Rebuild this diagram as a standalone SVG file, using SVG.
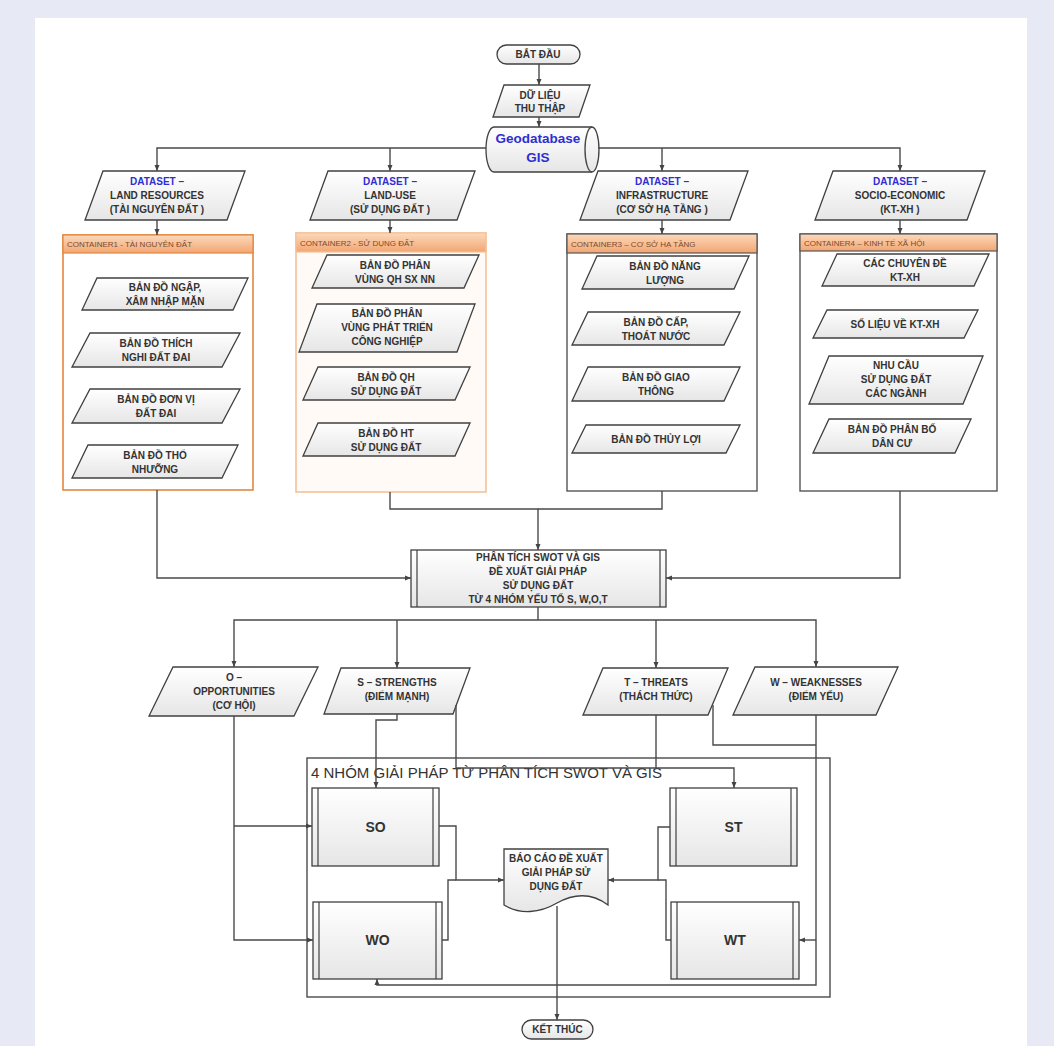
<svg xmlns="http://www.w3.org/2000/svg" width="1054" height="1046" viewBox="0 0 1054 1046">
<defs>
<linearGradient id="g" x1="0" y1="0" x2="0" y2="1"><stop offset="0" stop-color="#ffffff"/><stop offset="1" stop-color="#e6e6e6"/></linearGradient>
<linearGradient id="h" x1="0" y1="0" x2="0" y2="1"><stop offset="0" stop-color="#fcd9bb"/><stop offset="1" stop-color="#f2a673"/></linearGradient>
<marker id="a" viewBox="0 0 6 6" refX="6" refY="3" markerWidth="6" markerHeight="6" markerUnits="userSpaceOnUse" orient="auto"><path d="M0,0.5 L6,3 L0,5.5 z" fill="#444"/></marker>
</defs>
<style>
.n{fill:url(#g);stroke:#404040;stroke-width:1.3}
.t{font-family:"Liberation Sans",Arial,sans-serif;font-weight:bold;font-size:10px;fill:#333;text-anchor:middle}
.bl{fill:#2e2ed2}
.c{fill:none;stroke:#4a4a4a;stroke-width:1.4}
.hd{fill:url(#h);stroke:#e3873f;stroke-width:1.2}
.ht{font-family:"Liberation Sans",Arial,sans-serif;font-size:8px;fill:#7b4a2a}
.big{font-size:14px}
</style>
<rect x="0" y="0" width="1054" height="1046" fill="#e7e9f5"/>
<rect x="35" y="18" width="992" height="1028" fill="#ffffff"/>

<g id="start"><rect class="n" x="497" y="45" width="83" height="19" rx="9.5"/><text class="t" x="538" y="58">BẮT ĐẦU</text></g>
<g id="collect"><polygon class="n" points="504,85 590,85 579,117 493,117"/><text class="t" x="540" y="98.5">DỮ LIỆU</text><text class="t" x="540" y="111.5">THU THẬP</text></g>
<g id="geodb"><path class="n" d="M494,127 H592 A7,22.5 0 0 1 592,172 H494 A8,22.5 0 0 1 494,127 Z"/><path class="c" d="M592,127 A7,22.5 0 0 0 592,172"/><text class="t bl" style="font-size:13.5px" x="538" y="143">Geodatabase</text><text class="t bl" style="font-size:13.5px" x="538" y="162">GIS</text></g>

<g id="ds1"><polygon class="n" points="103,171 245,171 227,220 85,220"/><text class="t bl" x="157" y="184.5">DATASET –</text><text class="t" x="157" y="198.5">LAND RESOURCES</text><text class="t" x="157" y="212.5">(TÀI NGUYÊN ĐẤT )</text></g>
<g id="ds2"><polygon class="n" points="328,171 475,171 457,220 310,220"/><text class="t bl" x="390" y="184.5">DATASET –</text><text class="t" x="390" y="198.5">LAND-USE</text><text class="t" x="390" y="212.5">(SỬ DỤNG ĐẤT )</text></g>
<g id="ds3"><polygon class="n" points="598,171 748,171 730,220 580,220"/><text class="t bl" x="662" y="184.5">DATASET –</text><text class="t" x="662" y="198.5">INFRASTRUCTURE</text><text class="t" x="662" y="212.5">(CƠ SỞ HẠ TẦNG )</text></g>
<g id="ds4"><polygon class="n" points="833,171 985,171 967,220 815,220"/><text class="t bl" x="900" y="184.5">DATASET –</text><text class="t" x="900" y="198.5">SOCIO-ECONOMIC</text><text class="t" x="900" y="212.5">(KT-XH )</text></g>

<g id="container1">
<rect x="63" y="235" width="190" height="255" fill="#ffffff" stroke="#e3873f" stroke-width="1.6"/>
<rect class="hd" x="63" y="235" width="190" height="18"/>
<text class="ht" x="67" y="247">CONTAINER1 - TÀI NGUYÊN ĐẤT</text>
</g>
<g id="c1n1"><polygon class="n" points="97,278 248,278 233,310 82,310"/><text class="t" x="165" y="290.5">BẢN ĐỒ NGẬP,</text><text class="t" x="165" y="304.5">XÂM NHẬP MẶN</text></g>
<g id="c1n2"><polygon class="n" points="90,333 240,333 222,367 72,367"/><text class="t" x="156" y="346.5">BẢN ĐỒ THÍCH</text><text class="t" x="156" y="360.5">NGHI ĐẤT ĐAI</text></g>
<g id="c1n3"><polygon class="n" points="90,389 240,389 222,423 72,423"/><text class="t" x="156" y="402.5">BẢN ĐỒ ĐƠN VỊ</text><text class="t" x="156" y="416.5">ĐẤT ĐAI</text></g>
<g id="c1n4"><polygon class="n" points="88,445 238,445 222,478 72,478"/><text class="t" x="155" y="458.5">BẢN ĐỒ THỔ</text><text class="t" x="155" y="472.5">NHƯỠNG</text></g>

<g id="container2">
<rect x="296" y="233" width="190" height="259" fill="#fffaf6" stroke="#f3c29c" stroke-width="1.6"/>
<rect x="296" y="233" width="190" height="19" fill="url(#h)" stroke="#f3c29c" stroke-width="1.2"/>
<text class="ht" x="300" y="245.5">CONTAINER2 - SỬ DỤNG ĐẤT</text>
</g>
<g id="c2n1"><polygon class="n" points="327,255 479,255 464,288 312,288"/><text class="t" x="395" y="268.5">BẢN ĐỒ PHÂN</text><text class="t" x="395" y="282.5">VÙNG QH SX NN</text></g>
<g id="c2n2"><polygon class="n" points="317,304 475,304 457,352 299,352"/><text class="t" x="387" y="316.5">BẢN ĐỒ PHÂN</text><text class="t" x="387" y="330.5">VÙNG PHÁT TRIỂN</text><text class="t" x="387" y="344.5">CÔNG NGHIỆP</text></g>
<g id="c2n3"><polygon class="n" points="318,367 470,367 455,400 303,400"/><text class="t" x="386" y="380.5">BẢN ĐỒ QH</text><text class="t" x="386" y="394.5">SỬ DỤNG ĐẤT</text></g>
<g id="c2n4"><polygon class="n" points="318,423 470,423 455,456 303,456"/><text class="t" x="386" y="436.5">BẢN ĐỒ HT</text><text class="t" x="386" y="450.5">SỬ DỤNG ĐẤT</text></g>

<g id="container3">
<rect x="567" y="234" width="190" height="257" fill="#ffffff" stroke="#555" stroke-width="1.4"/>
<rect x="567" y="234" width="190" height="19" fill="url(#h)" stroke="#555" stroke-width="1.2"/>
<text class="ht" x="571" y="246.5">CONTAINER3 – CƠ SỞ HẠ TẦNG</text>
</g>
<g id="c3n1"><polygon class="n" points="597,256 749,256 734,289 582,289"/><text class="t" x="665" y="269.5">BẢN ĐỒ NĂNG</text><text class="t" x="665" y="283.5">LƯỢNG</text></g>
<g id="c3n2"><polygon class="n" points="588,312 740,312 724,345 572,345"/><text class="t" x="656" y="325.5">BẢN ĐỒ CẤP,</text><text class="t" x="656" y="339.5">THOÁT NƯỚC</text></g>
<g id="c3n3"><polygon class="n" points="588,367 740,367 724,401 572,401"/><text class="t" x="656" y="380.5">BẢN ĐỒ GIAO</text><text class="t" x="656" y="394.5">THÔNG</text></g>
<g id="c3n4"><polygon class="n" points="586,425 740,425 726,453 572,453"/><text class="t" x="656" y="442.5">BẢN ĐỒ THỦY LỢI</text></g>

<g id="container4">
<rect x="800" y="234" width="197" height="257" fill="#ffffff" stroke="#555" stroke-width="1.4"/>
<rect x="800" y="234" width="197" height="17" fill="url(#h)" stroke="#555" stroke-width="1.2"/>
<text class="ht" x="804" y="245.5">CONTAINER4 – KINH TẾ XÃ HỘI</text>
</g>
<g id="c4n1"><polygon class="n" points="837,254 989,254 974,286 822,286"/><text class="t" x="905" y="266.5">CÁC CHUYÊN ĐỀ</text><text class="t" x="905" y="280.5">KT-XH</text></g>
<g id="c4n2"><polygon class="n" points="827,310 978,310 964,338 813,338"/><text class="t" x="895" y="327.5">SỐ LIỆU VỀ KT-XH</text></g>
<g id="c4n3"><polygon class="n" points="829,356 983,356 963,404 809,404"/><text class="t" x="896" y="368.5">NHU CẦU</text><text class="t" x="896" y="382.5">SỬ DỤNG ĐẤT</text><text class="t" x="896" y="396.5">CÁC NGÀNH</text></g>
<g id="c4n4"><polygon class="n" points="829,419 971,419 955,453 813,453"/><text class="t" x="892" y="432.5">BẢN ĐỒ PHÂN BỐ</text><text class="t" x="892" y="446.5">DÂN CƯ</text></g>

<g id="swot"><rect class="n" x="411" y="550" width="255" height="57"/><line x1="417" y1="550" x2="417" y2="607" stroke="#404040" stroke-width="1.2"/><line x1="660" y1="550" x2="660" y2="607" stroke="#404040" stroke-width="1.2"/>
<text class="t" x="538" y="561">PHÂN TÍCH SWOT VÀ GIS</text><text class="t" x="538" y="575">ĐỀ XUẤT GIẢI PHÁP</text><text class="t" x="538" y="589">SỬ DỤNG ĐẤT</text><text class="t" x="538" y="603">TỪ 4 NHÓM YẾU TỐ S, W,O,T</text></g>

<g id="opp"><polygon class="n" points="173,667 318,667 294,716 149,716"/><text class="t" x="234" y="681">O –</text><text class="t" x="234" y="695">OPPORTUNITIES</text><text class="t" x="234" y="709">(CƠ HỘI)</text></g>
<g id="str"><polygon class="n" points="341,668 470,668 453,714 324,714"/><text class="t" x="397" y="686">S – STRENGTHS</text><text class="t" x="397" y="700">(ĐIỂM MẠNH)</text></g>
<g id="thr"><polygon class="n" points="603,668 728,668 708,715 583,715"/><text class="t" x="656" y="686">T – THREATS</text><text class="t" x="656" y="700">(THÁCH THỨC)</text></g>
<g id="weak"><polygon class="n" points="755,667 898,667 876,715 733,715"/><text class="t" x="816" y="686">W – WEAKNESSES</text><text class="t" x="816" y="700">(ĐIỂM YẾU)</text></g>

<g id="group4">
<rect x="307" y="758" width="523" height="239" fill="none" stroke="#4a4a4a" stroke-width="1.4"/>
<text x="311" y="778" style="font-family:'Liberation Sans',Arial,sans-serif;font-size:15px;fill:#333">4 NHÓM GIẢI PHÁP TỪ PHÂN TÍCH SWOT VÀ GIS</text>
</g>
<g id="so"><rect class="n" x="312" y="788" width="127" height="78"/><line x1="318" y1="788" x2="318" y2="866" stroke="#404040" stroke-width="1.2"/><line x1="433" y1="788" x2="433" y2="866" stroke="#404040" stroke-width="1.2"/><text class="t big" x="375.5" y="832">SO</text></g>
<g id="wo"><rect class="n" x="313" y="902" width="129" height="77"/><line x1="319" y1="902" x2="319" y2="979" stroke="#404040" stroke-width="1.2"/><line x1="436" y1="902" x2="436" y2="979" stroke="#404040" stroke-width="1.2"/><text class="t big" x="377.5" y="945">WO</text></g>
<g id="st"><rect class="n" x="670" y="788" width="127" height="78"/><line x1="676" y1="788" x2="676" y2="866" stroke="#404040" stroke-width="1.2"/><line x1="791" y1="788" x2="791" y2="866" stroke="#404040" stroke-width="1.2"/><text class="t big" x="733.5" y="832">ST</text></g>
<g id="wt"><rect class="n" x="671" y="902" width="128" height="77"/><line x1="677" y1="902" x2="677" y2="979" stroke="#404040" stroke-width="1.2"/><line x1="793" y1="902" x2="793" y2="979" stroke="#404040" stroke-width="1.2"/><text class="t big" x="735" y="945">WT</text></g>
<g id="report"><path class="n" d="M504,849 H608 V905 C592,893 575,893 557,903 C540,913 520,915 504,905 Z"/><text class="t" x="556" y="862">BÁO CÁO ĐỀ XUẤT</text><text class="t" x="556" y="876">GIẢI PHÁP SỬ</text><text class="t" x="556" y="890">DỤNG ĐẤT</text></g>
<g id="end"><rect class="n" x="522" y="1020" width="71" height="19" rx="9.5"/><text class="t" x="557.5" y="1033">KẾT THÚC</text></g>

<g id="connectors">
<path class="c" marker-end="url(#a)" d="M539,64 V85"/>
<path class="c" marker-end="url(#a)" d="M539,117 V127"/>
<path class="c" marker-end="url(#a)" d="M486,148 H157 V171"/>
<path class="c" marker-end="url(#a)" d="M390,148 V171"/>
<path class="c" marker-end="url(#a)" d="M598,148 H900 V171"/>
<path class="c" marker-end="url(#a)" d="M662,148 V171"/>
<path class="c" marker-end="url(#a)" d="M157,220 V235"/>
<path class="c" marker-end="url(#a)" d="M390,220 V233"/>
<path class="c" marker-end="url(#a)" d="M662,220 V234"/>
<path class="c" marker-end="url(#a)" d="M900,220 V234"/>
<path class="c" marker-end="url(#a)" d="M157,490 V578 H411"/>
<path class="c" marker-end="url(#a)" d="M390,492 V509 H538 V550"/>
<path class="c" d="M662,491 V509 H538"/>
<path class="c" marker-end="url(#a)" d="M900,491 V578 H666"/>
<path class="c" d="M538,607 V620"/>
<path class="c" marker-end="url(#a)" d="M538,620 H234 V667"/>
<path class="c" marker-end="url(#a)" d="M538,620 H816 V667"/>
<path class="c" marker-end="url(#a)" d="M397,620 V668"/>
<path class="c" marker-end="url(#a)" d="M656,620 V668"/>
<path class="c" marker-end="url(#a)" d="M234,716 V940 H313"/>
<path class="c" marker-end="url(#a)" d="M234,826 H312"/>
<path class="c" marker-end="url(#a)" d="M397,714 V720 H376 V788"/>
<path class="c" marker-end="url(#a)" d="M456,705 V768 H734 V788"/>
<path class="c" d="M656,715 V768"/>
<path class="c" d="M713,705 V745 H816"/>
<path class="c" marker-end="url(#a)" d="M816,715 V985 H377 V979"/>
<path class="c" marker-end="url(#a)" d="M816,940 H799"/>
<path class="c" marker-end="url(#a)" d="M439,826 H456 V880 H504"/>
<path class="c" d="M442,940 H448 V880 H456"/>
<path class="c" marker-end="url(#a)" d="M670,827 H658 V880 H608"/>
<path class="c" d="M671,940 H666 V880 H658"/>
<path class="c" marker-end="url(#a)" d="M557,906 V1020"/>
</g>
</svg>
